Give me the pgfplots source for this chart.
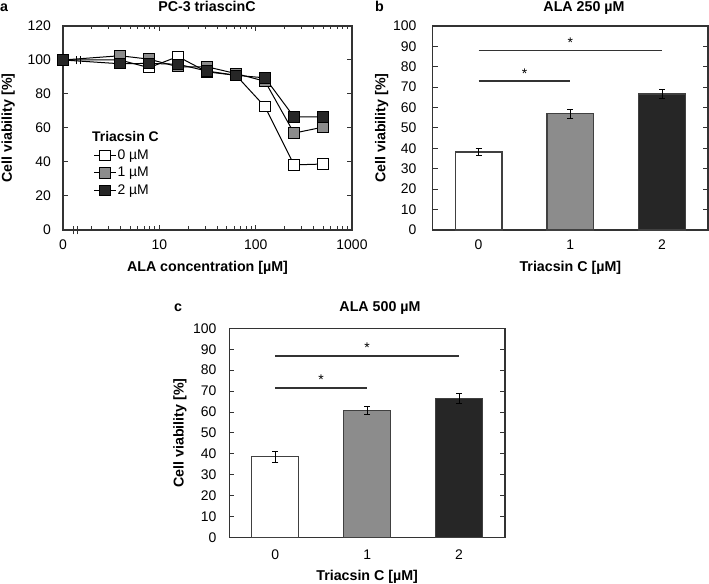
\documentclass[border=0pt]{standalone}
\usepackage{fontspec}
\setmainfont{Liberation Sans}
\usepackage{pgfplots}
\pgfplotsset{compat=1.18}
\definecolor{axc}{HTML}{333333}
\definecolor{barc}{HTML}{404040}
\definecolor{midgray}{HTML}{8C8C8C}
\definecolor{darkbar}{HTML}{262626}
\pgfplotsset{
  myaxis/.style={
    scale only axis, anchor=south west, clip=false,
    axis line style={axc, line width=1.3bp},
    tick style={axc, line width=1bp},
    tick align=inside,
    major tick length=5bp, minor tick length=3.5bp,
    /pgf/number format/assume math mode=true,
    ticklabel style={font=\fontsize{14}{16}\selectfont},
    label style={font=\bfseries\fontsize{14.3}{16}\selectfont},
    xticklabel style={anchor=north, inner ysep=0pt, yshift=-10bp},
    xlabel style={anchor=base},
    ylabel style={anchor=base},
  },
  barplot/.style={ybar, bar width=0.51, bar shift=0pt, draw=barc, line width=1.2bp,
    error bars/.cd, y dir=both, y explicit,
    error bar style={line width=1bp, black},
    error mark options={rotate=90, mark size=3bp, line width=1bp, black},
    /pgfplots/.cd},
}
\begin{document}
\begin{tikzpicture}
\path[use as bounding box] (0bp,0bp) rectangle (709bp,584bp);

% ---------------- panel a ----------------
\begin{axis}[myaxis,
  at={(63bp,354bp)}, width=289bp, height=204bp,
  xmode=log, xmin=1, xmax=1000, ymin=0, ymax=120,
  ytick={0,20,...,120},
  xtick={1,10,100,1000}, xticklabels={0,10,100,1000},
  minor xtick={2,3,...,9,20,30,...,90,200,300,...,900},
  yticklabel style={anchor=east, inner xsep=0pt, xshift=-12bp},
  xlabel={ALA concentration [µM]},
  ylabel={Cell viability [\%]},
  xlabel style={at={([yshift=-42bp]axis description cs:0.5,0)}},
  ylabel style={at={([xshift=-51bp]axis description cs:0,0.5)}},
  legend style={at={(axis description cs:0.105,0.40)}, anchor=north west,
    draw=none, fill=none, font=\fontsize{14}{16}\selectfont,
    row sep=4.5bp, inner sep=0pt,
    nodes={inner sep=1bp}},
  legend cell align=left,
  legend image code/.code={\draw[mark repeat=2,mark phase=2,#1] plot coordinates {(0bp,0bp) (11bp,0bp) (22bp,0bp)};},
]
\addplot[black, line width=1bp, mark=square*, mark size=5.2bp,
  mark options={fill=white, draw=black, line width=1bp}]
  coordinates {(1,100) (3.9,100) (7.8,95.5) (15.6,102) (31.25,93) (62.5,91) (125,72.5) (250,38.3) (500,38.8)};
\addlegendentry{0 µM}
\addplot[black, line width=1bp, mark=square*, mark size=5.2bp,
  mark options={fill=midgray, draw=black, line width=1bp}]
  coordinates {(1,100) (3.9,102.5) (7.8,100.5) (15.6,96) (31.25,96) (62.5,92) (125,87.5) (250,57) (500,60.5)};
\addlegendentry{1 µM}
\addplot[black, line width=1bp, mark=square*, mark size=5.2bp,
  mark options={fill=darkbar, draw=black, line width=1bp}]
  coordinates {(1,100) (3.9,97.8) (7.8,98) (15.6,97.5) (31.25,93.5) (62.5,91) (125,89.5) (250,66.5) (500,66.5)};
\addlegendentry{2 µM}
\node[anchor=west, inner sep=0pt, font=\bfseries\fontsize{14}{16}\selectfont] at (axis description cs:0.1,0.46) {Triacsin C};
% axis breaks
\draw[axc, line width=1bp] (axis cs:1.28,-2.6) -- (axis cs:1.28,2.6);
\draw[axc, line width=1bp] (axis cs:1.41,-2.6) -- (axis cs:1.41,2.6);
\draw[black, line width=1bp] (axis cs:1.37,97.4) -- (axis cs:1.37,102.6);
\draw[black, line width=1bp] (axis cs:1.52,97.4) -- (axis cs:1.52,102.6);
\end{axis}

% ---------------- panel b ----------------
\begin{axis}[myaxis,
  at={(432.7bp,354bp)}, width=275.3bp, height=204bp,
  xmin=-0.5, xmax=2.5, ymin=0, ymax=100,
  ytick={0,10,...,100}, xtick={0,1,2},
  major x tick style={draw=none},
  yticklabel style={anchor=east, inner xsep=0pt, xshift=-16bp},
  xlabel={Triacsin C [µM]},
  ylabel={Cell viability [\%]},
  xlabel style={at={([yshift=-42bp]axis description cs:0.5,0)}},
  ylabel style={at={([xshift=-47.4bp]axis description cs:0,0.5)}},
]
\addplot[fill=white, barplot] coordinates {(0,38.2) +- (0,1.9)};
\addplot[fill=midgray, barplot] coordinates {(1,57) +- (0,2.1)};
\addplot[fill=darkbar, barplot] coordinates {(2,66.7) +- (0,2.3)};
\draw[axc, line width=1.5bp] (axis cs:0,88) -- (axis cs:2,88);
\draw[axc, line width=1.5bp] (axis cs:0,73) -- (axis cs:1,73);
\node[anchor=base, inner sep=0pt, font=\fontsize{14}{16}\selectfont] at (axis cs:1,89.6) {*};
\node[anchor=base, inner sep=0pt, font=\fontsize{14}{16}\selectfont] at (axis cs:0.5,74.5) {*};
\end{axis}

% ---------------- panel c ----------------
\begin{axis}[myaxis,
  at={(229.3bp,46.3bp)}, width=275.7bp, height=209.4bp,
  xmin=-0.5, xmax=2.5, ymin=0, ymax=100,
  ytick={0,10,...,100}, xtick={0,1,2},
  major x tick style={draw=none},
  xticklabel style={yshift=-2bp},
  yticklabel style={anchor=east, inner xsep=0pt, xshift=-12.6bp},
  xlabel={Triacsin C [µM]},
  ylabel={Cell viability [\%]},
  xlabel style={at={([yshift=-42.3bp]axis description cs:0.5,0)}},
  ylabel style={at={([xshift=-45.6bp]axis description cs:0,0.5)}},
]
\addplot[fill=white, barplot] coordinates {(0,38.7) +- (0,2.6)};
\addplot[fill=midgray, barplot] coordinates {(1,60.7) +- (0,2.0)};
\addplot[fill=darkbar, barplot] coordinates {(2,66.6) +- (0,2.3)};
\draw[axc, line width=1.5bp] (axis cs:0,86.8) -- (axis cs:2,86.8);
\draw[axc, line width=1.5bp] (axis cs:0,71.6) -- (axis cs:1,71.6);
\node[anchor=base, inner sep=0pt, font=\fontsize{14}{16}\selectfont] at (axis cs:1,88.3) {*};
\node[anchor=base, inner sep=0pt, font=\fontsize{14}{16}\selectfont] at (axis cs:0.5,73.1) {*};
\end{axis}

% titles and panel letters
\node[anchor=base west, inner sep=0pt, font=\bfseries\fontsize{14.3}{16}\selectfont] at (0bp,572bp) {a};
\node[anchor=base, inner sep=0pt, font=\bfseries\fontsize{14.3}{16}\selectfont] at (207bp,572bp) {PC-3 triascinC};
\node[anchor=base west, inner sep=0pt, font=\bfseries\fontsize{14.3}{16}\selectfont] at (375bp,572bp) {b};
\node[anchor=base, inner sep=0pt, font=\bfseries\fontsize{14.3}{16}\selectfont] at (584bp,572bp) {ALA 250 µM};
\node[anchor=base west, inner sep=0pt, font=\bfseries\fontsize{14.3}{16}\selectfont] at (174bp,272bp) {c};
\node[anchor=base, inner sep=0pt, font=\bfseries\fontsize{14.3}{16}\selectfont] at (380bp,272bp) {ALA 500 µM};
\end{tikzpicture}
\end{document}
